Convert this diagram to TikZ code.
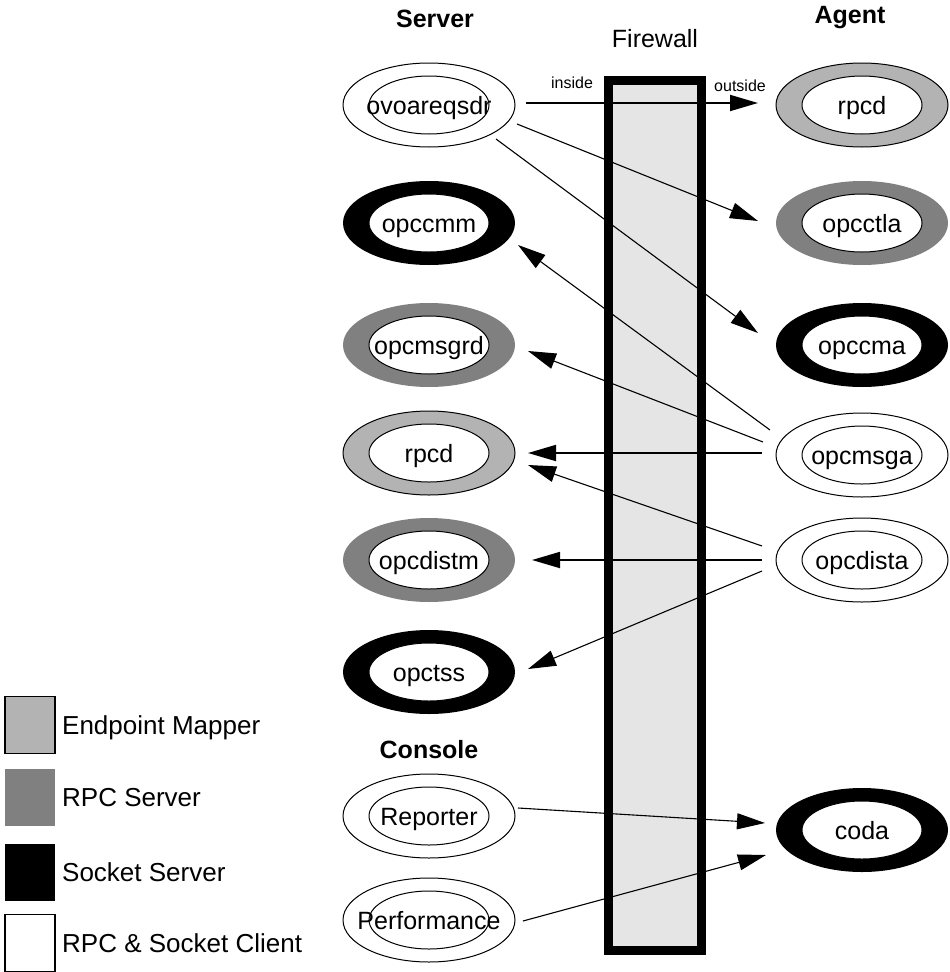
\documentclass[tikz,border=0pt]{standalone}
\usepackage{fontspec}
\setmainfont{Liberation Sans}
\usetikzlibrary{arrows.meta,calc,shapes.geometric}
\definecolor{epmgray}{HTML}{B3B3B3}
\definecolor{rpcgray}{HTML}{808080}
\definecolor{fwgray}{HTML}{E5E5E5}

% process bubble: #1 name, #2 centre, #3 ring style, #4 process name
\newcommand\procnode[4]{%
  \node[#3] (#1) at (#2) {};
  \node[core] (#1-in) at (#1) {};
  \node[anchor=base, inner sep=0pt] (#1-txt) at ($(#1)+(0,9)$) {#4};
}

\begin{document}
\begin{tikzpicture}[x=1pt,y=-1pt,
  every node/.style={font=\fontsize{25}{30}\selectfont},
  ring/.style={ellipse, minimum width=172pt, minimum height=84pt, inner sep=0pt},
  core/.style={ellipse, minimum width=120pt, minimum height=58pt, inner sep=0pt,
    fill=white, draw=black, line width=1pt},
  epm/.style={ring, fill=epmgray, draw=black, line width=1pt},
  rpcsrv/.style={ring, fill=rpcgray},
  socksrv/.style={ring, fill=black},
  client/.style={ring, fill=white, draw=black, line width=1pt},
  heading/.style={anchor=base, inner sep=0pt, font=\fontsize{25}{30}\selectfont\bfseries},
  side/.style={anchor=base, inner sep=0pt, font=\fontsize{16}{19}\selectfont},
  flow/.style={-{Triangle[length=28pt,width=16pt]}, line width=1.1pt},
  hflow/.style={flow, line width=1.8pt},
  key/.style={rectangle, minimum width=50pt, minimum height=57pt, inner sep=0pt},
  keytext/.style={anchor=base west, inner sep=0pt, font=\fontsize{26}{31}\selectfont}
]
\useasboundingbox (0,0) rectangle (950,972);

% firewall
\node[draw=black, line width=9pt, fill=fwgray, minimum width=93pt,
      minimum height=870pt, inner sep=0pt] (fw) at (655,515.5) {};
\node[anchor=base, inner sep=0pt] (fwlabel) at (655,47) {Firewall};
\node[side] (inside) at (572,88) {inside};
\node[side] (outside) at (740,91) {outside};

% column headings
\node[heading] (server) at (435,27) {Server};
\node[heading] (agent) at (850,23) {Agent};
\node[heading] (console) at (429,758) {Console};

% server processes
\procnode{ovo}{429,105}{client}{ovoareqsdr}
\procnode{cmm}{429,223}{socksrv}{opccmm}
\procnode{msgrd}{429,345}{rpcsrv}{opcmsgrd}
\procnode{rpcdS}{429,453}{epm}{rpcd}
\procnode{distm}{429,560}{rpcsrv}{opcdistm}
\procnode{tss}{429,672}{socksrv}{opctss}

% console processes
\procnode{rep}{429,816}{client}{Reporter}
\procnode{perf}{429,920}{client}{Performance}

% agent processes
\procnode{rpcdA}{862,105}{epm}{rpcd}
\procnode{ctla}{862,223}{rpcsrv}{opcctla}
\procnode{cma}{862,345}{socksrv}{opccma}
\procnode{msga}{862,455}{client}{opcmsga}
\procnode{dista}{862,560}{client}{opcdista}
\procnode{coda}{862,830}{socksrv}{coda}

% connections through the firewall
\draw[hflow] ($(ovo)+(97,-2)$) -- ($(rpcdA)+(-104,-2)$);
\draw[flow] ($(ovo)+(88,19)$) -- ($(ctla)+(-104,-2)$);
\draw[flow] ($(ovo)+(67,34)$) -- ($(cma)+(-104,-12)$);
\draw[flow] ($(msga)+(-92,-25)$) -- ($(cmm)+(89,22)$);
\draw[flow] ($(msga)+(-99,-13)$) -- ($(msgrd)+(99,6)$);
\draw[hflow] ($(msga)+(-100,-2)$) -- ($(rpcdS)+(99,0)$);
\draw[flow] ($(dista)+(-100,-14)$) -- ($(rpcdS)+(99,12)$);
\draw[hflow] ($(dista)+(-100,0)$) -- ($(distm)+(103,0)$);
\draw[flow] ($(dista)+(-100,11)$) -- ($(tss)+(99,-3)$);
\draw[flow] ($(rep)+(89,-8)$) -- ($(coda)+(-97,-7)$);
\draw[flow] ($(perf)+(94,1)$) -- ($(coda)+(-96,25)$);

% legend
\node[key, fill=epmgray, draw=black, line width=1.5pt] (k1) at (30,725) {};
\node[key, fill=rpcgray] (k2) at (30,797) {};
\node[key, fill=black] (k3) at (30,872) {};
\node[key, fill=white, draw=black, line width=1.5pt] (k4) at (30,943) {};
\node[keytext] (k1t) at (62,734) {Endpoint Mapper};
\node[keytext] (k2t) at (62,806) {RPC Server};
\node[keytext] (k3t) at (62,881) {Socket Server};
\node[keytext] (k4t) at (62,952) {RPC \& Socket Client};
\end{tikzpicture}
\end{document}
